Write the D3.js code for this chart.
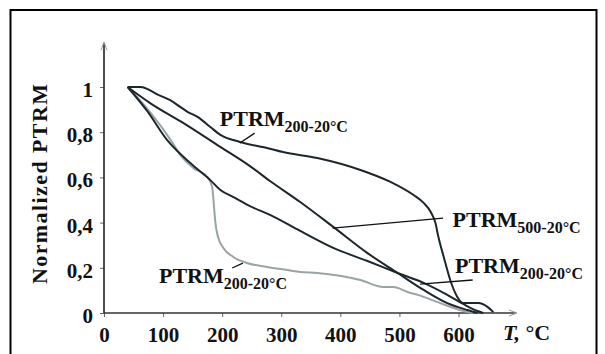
<!DOCTYPE html>
<html>
<head>
<meta charset="utf-8">
<script src="https://cdn.jsdelivr.net/npm/d3@7"></script>
<style>
  body { margin: 0; background: #fff; }
  text { font-family: "Liberation Serif", serif; font-weight: bold; fill: #111; }
</style>
</head>
<body>
<script>
const w = 605;
const h = 354;

// temperature (deg C) and normalized PTRM
const upperT = [40, 62, 92, 112, 129, 142, 159, 180, 197, 230, 276, 303, 361, 434, 485, 524, 541, 553, 561, 566, 575, 586, 598, 608, 634, 649, 659];
const upperV = [1, 1, 0.965, 0.942, 0.912, 0.889, 0.867, 0.823, 0.788, 0.757, 0.73, 0.712, 0.686, 0.633, 0.58, 0.522, 0.487, 0.447, 0.398, 0.336, 0.248, 0.146, 0.071, 0.044, 0.044, 0.027, 0.004];

const midT = [40, 78, 134, 192, 247, 281, 332, 388, 446, 497, 541, 581, 615, 632];
const midV = [1, 0.929, 0.841, 0.743, 0.65, 0.584, 0.491, 0.381, 0.265, 0.177, 0.102, 0.044, 0.013, 0];

const lowT = [40, 73, 107, 146, 180, 197, 219, 247, 281, 332, 388, 446, 497, 541, 581, 608, 632, 642];
const lowV = [1, 0.894, 0.765, 0.664, 0.588, 0.544, 0.513, 0.473, 0.434, 0.363, 0.288, 0.23, 0.177, 0.133, 0.08, 0.04, 0.009, 0];

const grayT = [40, 78, 115, 129, 151, 175, 183, 186, 188, 193, 202, 219, 242, 276, 310, 332, 361, 434, 473, 490, 514, 531, 564, 592, 615, 624];
const grayV = [1, 0.889, 0.757, 0.699, 0.642, 0.602, 0.558, 0.478, 0.412, 0.336, 0.288, 0.248, 0.221, 0.204, 0.19, 0.181, 0.177, 0.146, 0.115, 0.115, 0.093, 0.08, 0.049, 0.022, 0.004, 0];

const xTicks = [0, 100, 200, 300, 400, 500, 600];
const yTicks = [0, 0.2, 0.4, 0.6, 0.8, 1];
const yTickLabels = ['0', '0,2', '0,4', '0,6', '0,8', '1'];

// labels: [T, value, main text, subscript], leaders: [T1, v1, T2, v2]
const labels = [
  [196, 0.827, 'PTRM', '200-20°C'],
  [590, 0.381, 'PTRM', '500-20°C'],
  [594, 0.177, 'PTRM', '200-20°C'],
  [93, 0.133, 'PTRM', '200-20°C']
];
const leaders = [
  [230, 0.752, 255, 0.796],
  [387, 0.376, 574, 0.42],
  [535, 0.128, 624, 0.146],
  [217, 0.199, 235, 0.221]
];

const x = d3.scaleLinear().domain([0, 600]).range([104, 458.5]);
const y = d3.scaleLinear().domain([0, 1]).range([313, 87]);

const svg = d3.select('body').append('svg')
  .attr('width', w)
  .attr('height', h);

// frame
svg.append('rect')
  .attr('x', 10.5).attr('y', 10)
  .attr('width', 586).attr('height', 360)
  .attr('fill', 'none')
  .attr('stroke', '#000')
  .attr('stroke-width', 2);

// axes
const xAxis = d3.axisBottom(x)
  .tickValues(xTicks)
  .tickSize(4)
  .tickPadding(10);

const yAxis = d3.axisLeft(y)
  .tickValues(yTicks)
  .tickFormat((d, i) => yTickLabels[i])
  .tickSize(4)
  .tickPadding(7);

const gx = svg.append('g')
  .attr('transform', 'translate(0,' + y(0) + ')')
  .call(xAxis);
gx.select('.domain').remove();
gx.selectAll('line').attr('stroke', '#666');
gx.selectAll('text')
  .style('font-size', '21px')
  .attr('fill', '#111')
  .attr('font-family', 'Liberation Serif');

const gy = svg.append('g')
  .attr('transform', 'translate(' + x(0) + ',0)')
  .call(yAxis);
gy.select('.domain').remove();
gy.selectAll('line').attr('stroke', '#666');
gy.selectAll('text')
  .style('font-size', '21px')
  .attr('dy', '0.45em')
  .attr('fill', '#111')
  .attr('font-family', 'Liberation Serif');

// axis lines with open arrows
const x0 = x(0), y0 = y(0);
svg.append('line')
  .attr('x1', x0).attr('y1', y0).attr('x2', x0).attr('y2', 43)
  .attr('stroke', '#222').attr('stroke-width', 1.6);
svg.append('path')
  .attr('d', 'M' + (x0 - 3) + ',50 L' + x0 + ',42 L' + (x0 + 3) + ',50')
  .attr('fill', 'none').attr('stroke', '#999').attr('stroke-width', 1);
svg.append('line')
  .attr('x1', x0).attr('y1', y0).attr('x2', 516).attr('y2', y0)
  .attr('stroke', '#333').attr('stroke-width', 1.4);
svg.append('path')
  .attr('d', 'M509,' + (y0 - 3) + ' L517,' + y0 + ' L509,' + (y0 + 3))
  .attr('fill', 'none').attr('stroke', '#999').attr('stroke-width', 1);

// curves
const line = d3.line()
  .x(d => x(d[0]))
  .y(d => y(d[1]))
  .curve(d3.curveMonotoneX);

const series = [
  [grayT, grayV, '#9aa3a6'],
  [lowT, lowV, '#1c262c'],
  [midT, midV, '#1c262c'],
  [upperT, upperV, '#1c262c']
];

series.forEach(s => {
  svg.append('path')
    .datum(s[0].map((t, i) => [t, s[1][i]]))
    .attr('d', line)
    .attr('fill', 'none')
    .attr('stroke', s[2])
    .attr('stroke-width', 2)
    .attr('stroke-linejoin', 'round');
});

// leader lines
svg.selectAll('.leader')
  .data(leaders)
  .enter()
  .append('line')
  .attr('class', 'leader')
  .attr('x1', d => x(d[0])).attr('y1', d => y(d[1]))
  .attr('x2', d => x(d[2])).attr('y2', d => y(d[3]))
  .attr('stroke', '#111')
  .attr('stroke-width', 1.3);

// curve labels
labels.forEach(l => {
  const t = svg.append('text')
    .attr('x', x(l[0]))
    .attr('y', y(l[1]))
    .style('font-size', '22px');
  t.append('tspan').text(l[2]);
  t.append('tspan')
    .attr('dy', 6)
    .style('font-size', '16px')
    .text(l[3]);
});

// axis titles
const xt = svg.append('text')
  .attr('x', 503)
  .attr('y', 340)
  .style('font-size', '22px');
xt.append('tspan').attr('font-style', 'italic').text('T,');
xt.append('tspan').text(' °C');

svg.append('text')
  .attr('transform', 'translate(47,184) rotate(-90)')
  .attr('text-anchor', 'middle')
  .attr('textLength', 200)
  .attr('lengthAdjust', 'spacing')
  .style('font-size', '22px')
  .text('Normalized PTRM');
</script>
</body>
</html>
